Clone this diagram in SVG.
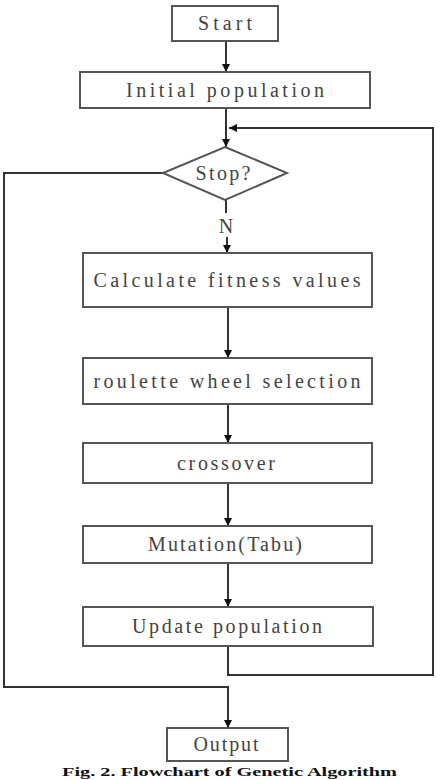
<svg xmlns="http://www.w3.org/2000/svg" width="440" height="780" viewBox="0 0 440 780">
<defs>
<marker id="arr" viewBox="0 0 10 10" refX="10" refY="5" markerWidth="8" markerHeight="8" markerUnits="userSpaceOnUse" orient="auto">
<path d="M0,0 L10,5 L0,10 Z" fill="#111"/>
</marker>
<style>
.box{fill:#fff;stroke:#555;stroke-width:2}
.lbl{font-family:"Liberation Serif","Times New Roman",serif;font-size:20px;fill:#444;text-anchor:middle;dominant-baseline:central}
.con{fill:none;stroke:#333;stroke-width:2}
.cap{font-family:"Liberation Serif","Times New Roman",serif;font-weight:bold;font-size:12px;fill:#111}
</style>
</defs>
<rect width="440" height="780" fill="#fff"/>
<g id="connectors">
<path class="con" d="M226,41 V72" marker-end="url(#arr)"/>
<path class="con" d="M226,108 V147" marker-end="url(#arr)"/>
<path class="con" d="M228,646 V675 H433 V128 H229" marker-end="url(#arr)"/>
<path class="con" d="M163,173 H4 V687 H228 V728" marker-end="url(#arr)"/>
<path class="con" d="M226,200 V213" stroke-width="1.2"/>
<path class="con" d="M227,237 V253" marker-end="url(#arr)"/>
<path class="con" d="M228,307 V358" marker-end="url(#arr)"/>
<path class="con" d="M228,404 V443" marker-end="url(#arr)"/>
<path class="con" d="M228,483 V526" marker-end="url(#arr)"/>
<path class="con" d="M228,563 V607" marker-end="url(#arr)"/>
<text class="lbl" x="226" y="226" font-size="16">N</text>
</g>
<g id="start"><rect class="box" x="172" y="6" width="106" height="35"/><text class="lbl" x="225" y="23" textLength="54" lengthAdjust="spacing">Start</text></g>
<g id="init"><rect class="box" x="80" y="72" width="290" height="36"/><text class="lbl" x="225" y="90" textLength="198" lengthAdjust="spacing">Initial population</text></g>
<g id="stop"><polygon class="box" points="225,147 287,173 225,200 163,173"/><text class="lbl" x="223" y="173" textLength="55" lengthAdjust="spacing">Stop?</text></g>
<g id="fitness"><rect class="box" x="83" y="253" width="289" height="54"/><text class="lbl" x="227" y="280" textLength="267" lengthAdjust="spacing">Calculate fitness values</text></g>
<g id="roulette"><rect class="box" x="83" y="358" width="289" height="46"/><text class="lbl" x="227" y="381" textLength="267" lengthAdjust="spacing">roulette wheel selection</text></g>
<g id="crossover"><rect class="box" x="83" y="443" width="289" height="40"/><text class="lbl" x="226" y="463" textLength="98" lengthAdjust="spacing">crossover</text></g>
<g id="mutation"><rect class="box" x="83" y="526" width="289" height="37"/><text class="lbl" x="225" y="544" textLength="154" lengthAdjust="spacing">Mutation(Tabu)</text></g>
<g id="update"><rect class="box" x="83" y="607" width="290" height="39"/><text class="lbl" x="227" y="626" textLength="190" lengthAdjust="spacing">Update population</text></g>
<g id="output"><rect class="box" x="167" y="728" width="121" height="33"/><text class="lbl" x="226" y="744" textLength="65" lengthAdjust="spacing">Output</text></g>
<text class="cap" x="62" y="776" textLength="335" lengthAdjust="spacingAndGlyphs">Fig. 2. Flowchart of Genetic Algorithm</text>
</svg>
